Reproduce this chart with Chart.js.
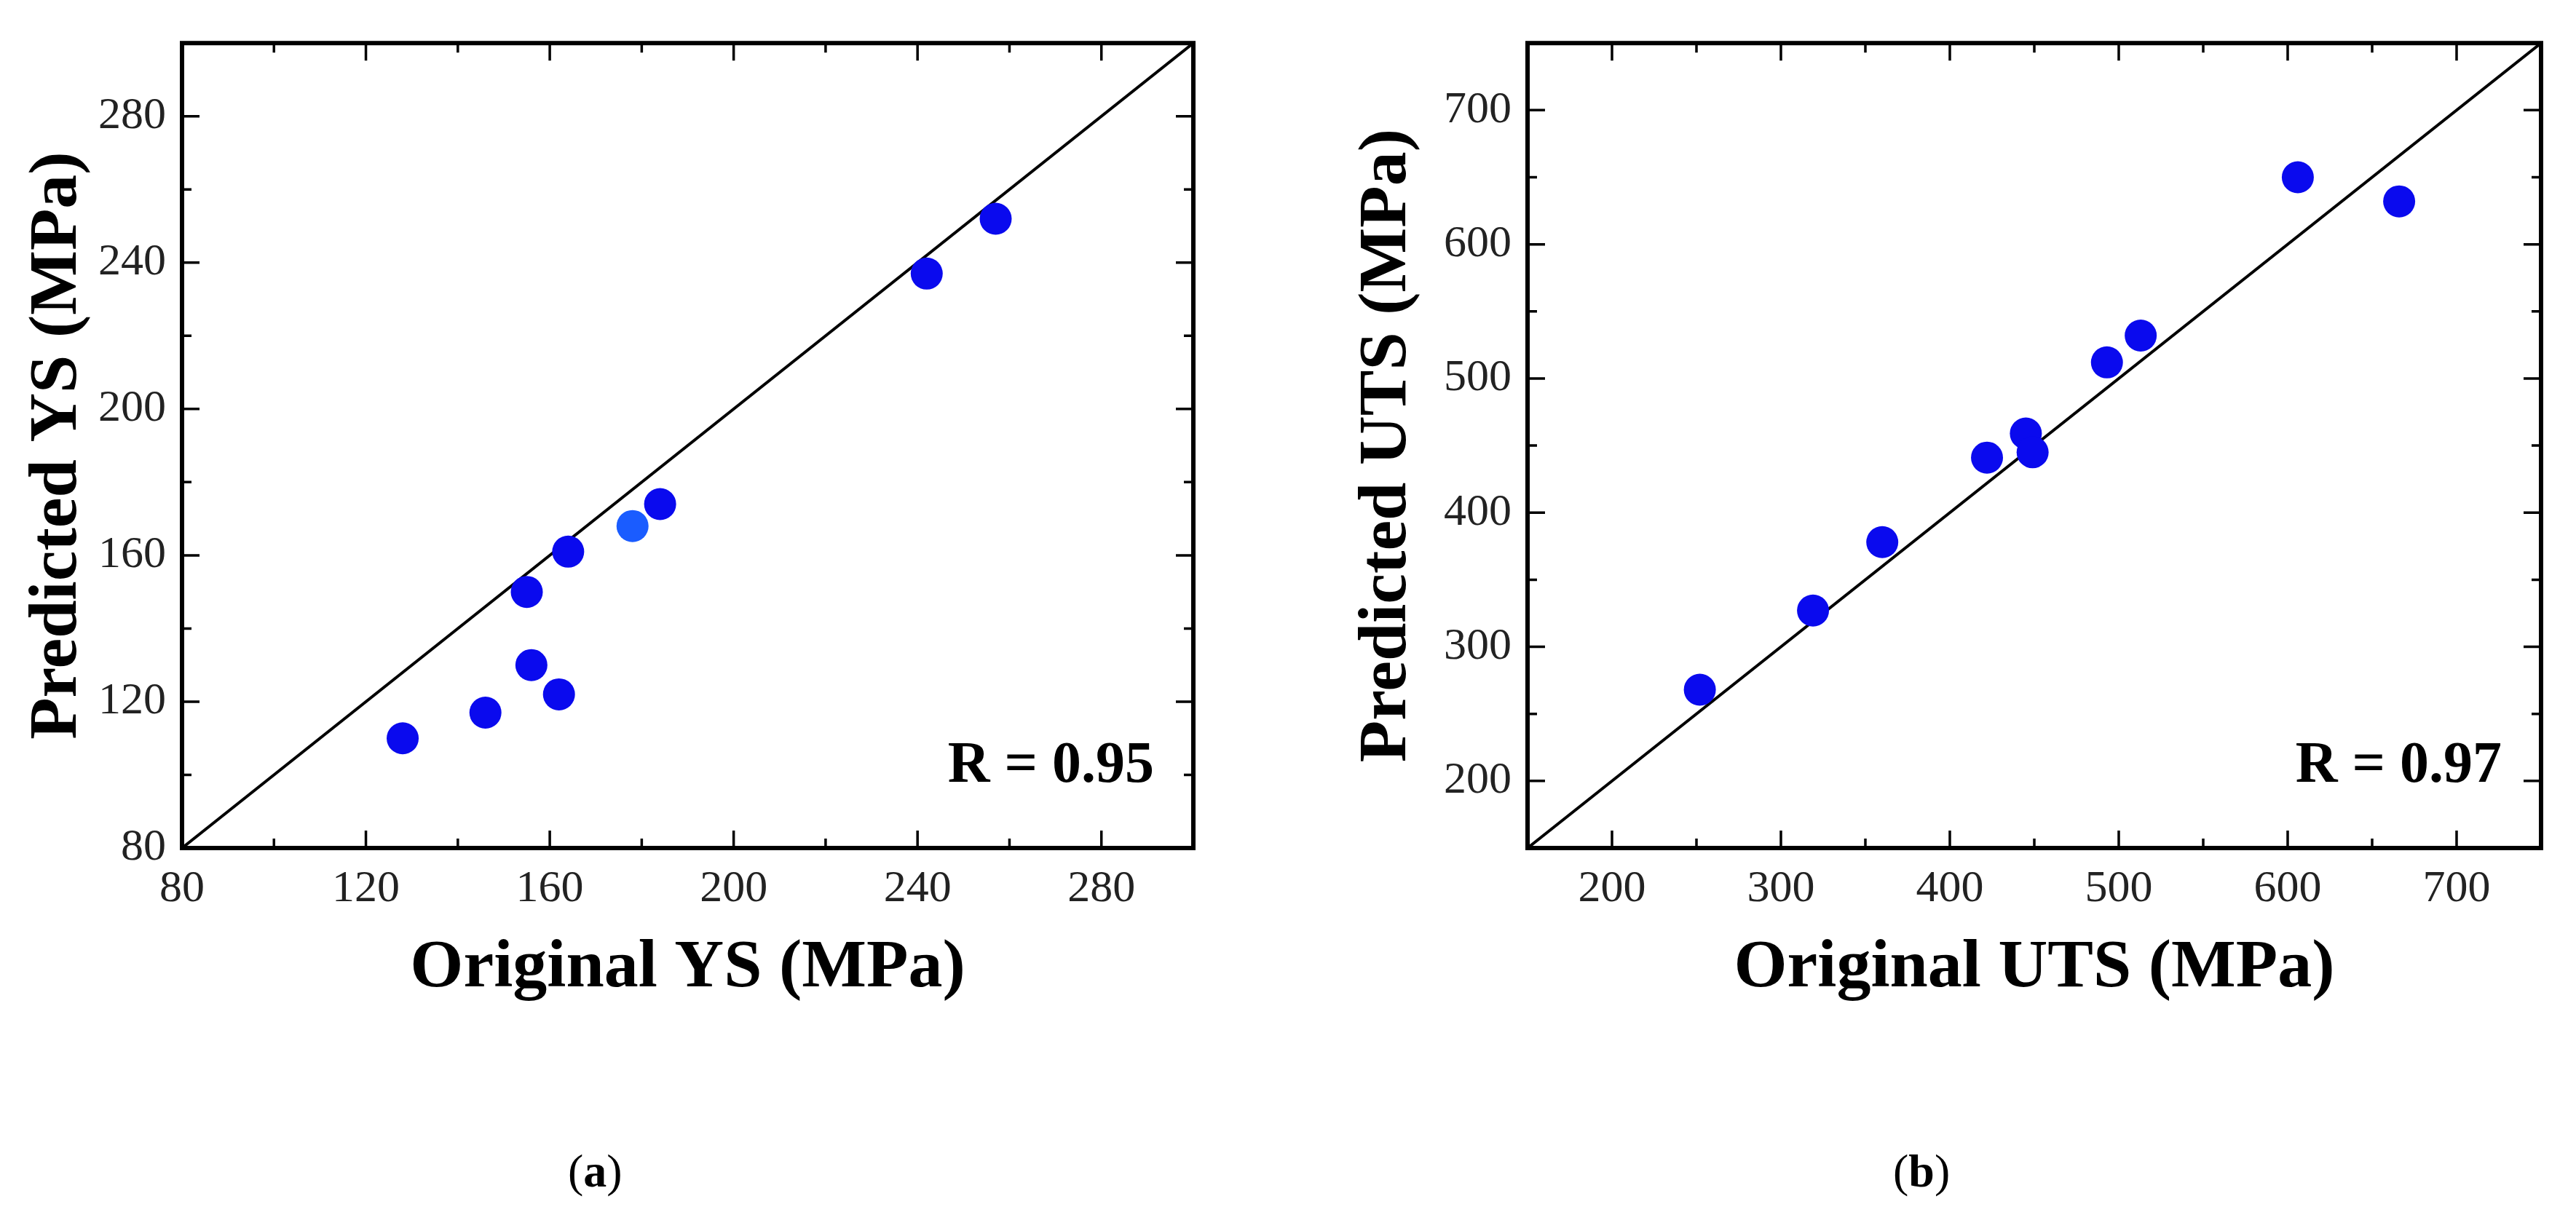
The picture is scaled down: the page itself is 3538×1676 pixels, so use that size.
<!DOCTYPE html>
<html>
<head>
<meta charset="utf-8">
<script src="https://cdn.jsdelivr.net/npm/chart.js@4"></script>
<style>
  body { margin: 0; width: 3538px; height: 1676px; background: #fff; position: relative; overflow: hidden; }
  .wrap { position: absolute; top: 0; width: 1769px; height: 1420px; }
  .cap { position: absolute; top: 1572px; font: 64px "Liberation Serif", serif; color: #000; }
</style>
</head>
<body>
<div class="wrap" style="left:0"><canvas id="chartA"></canvas></div>
<div class="wrap" style="left:1769px"><canvas id="chartB"></canvas></div>
<div class="cap" style="left:780px">(<b>a</b>)</div>
<div class="cap" style="left:2600px">(<b>b</b>)</div>
<script>
// Panel (a): yield strength
const ysOriginal  = [128, 146, 155, 156, 162, 164, 178, 184, 242, 257];
const ysPredicted = [110, 117, 150, 130, 122, 161, 168, 174, 237, 252];
const ysTicks = [80, 120, 160, 200, 240, 280];
const ysMinor = [100, 140, 180, 220, 260, 300];
const ysRange = [80, 300];

// Panel (b): ultimate tensile strength
const utsOriginal  = [252, 319, 360, 422, 445, 449, 493, 513, 606, 666];
const utsPredicted = [268, 327, 378, 441, 459, 445, 512, 532, 650, 632];
const utsTicks = [200, 300, 400, 500, 600, 700];
const utsMinor = [150, 250, 350, 450, 550, 650, 750];
const utsRange = [150, 750];

const serif = '"Liberation Serif", "DejaVu Serif", serif';

// frame + inward ticks on all four sides, plus the R label
const framePlugin = {
  id: 'frame',
  afterDraw(chart, args, opts) {
    const ctx = chart.ctx;
    const a = chart.chartArea;
    const xs = chart.scales.x, ys = chart.scales.y;
    ctx.save();
    ctx.strokeStyle = '#000';
    ctx.lineWidth = 3.5;
    const tick = (vals, len) => {
      vals.forEach(v => {
        const px = xs.getPixelForValue(v);
        ctx.beginPath();
        ctx.moveTo(px, a.bottom); ctx.lineTo(px, a.bottom - len);
        ctx.moveTo(px, a.top); ctx.lineTo(px, a.top + len);
        ctx.stroke();
        const py = ys.getPixelForValue(v);
        ctx.beginPath();
        ctx.moveTo(a.left, py); ctx.lineTo(a.left + len, py);
        ctx.moveTo(a.right, py); ctx.lineTo(a.right - len, py);
        ctx.stroke();
      });
    };
    tick(opts.major, 24);
    tick(opts.minor, 13);
    ctx.lineWidth = 6;
    ctx.strokeRect(a.left, a.top, a.right - a.left, a.bottom - a.top);
    ctx.fillStyle = '#000';
    ctx.font = 'bold 80px ' + serif;
    ctx.textAlign = 'right';
    ctx.textBaseline = 'middle';
    ctx.fillText(opts.label, a.right - 54, a.bottom - 112);
    ctx.restore();
  }
};

function makeChart(id, xv, yv, range, major, minor, xTitle, yTitle, rLabel, leftW, titlePad, padRight) {
  const pts = xv.map((x, i) => ({ x: x, y: yv[i] }));
  const colors = xv.map((x, i) => (id === 'chartA' && i === 6) ? '#1a5cff' : '#0a0aee');
  new Chart(document.getElementById(id), {
    type: 'scatter',
    data: {
      datasets: [
        {
          type: 'line',
          data: [{ x: range[0], y: range[0] }, { x: range[1], y: range[1] }],
          borderColor: '#000', borderWidth: 4, pointRadius: 0, order: 2
        },
        {
          data: pts,
          backgroundColor: colors, borderWidth: 0, pointRadius: 22, order: 1
        }
      ]
    },
    options: {
      responsive: true,
      maintainAspectRatio: false,
      animation: false,
      layout: { padding: { top: 41, right: padRight, left: 0, bottom: 0 } },
      plugins: {
        legend: { display: false },
        tooltip: { enabled: false },
        frame: { major: major, minor: minor, label: rLabel }
      },
      scales: {
        x: {
          type: 'linear', min: range[0], max: range[1],
          afterBuildTicks: s => { s.ticks = major.map(v => ({ value: v })); },
          afterFit: s => { s.height = 255; },
          grid: { display: false, drawTicks: false },
          border: { display: false },
          ticks: { font: { family: serif, size: 62 }, color: '#222', padding: 20 },
          title: { display: true, text: xTitle, color: '#000',
                   font: { family: serif, size: 94, weight: 'bold' }, padding: { bottom: 33 } }
        },
        y: {
          type: 'linear', min: range[0], max: range[1],
          afterBuildTicks: s => { s.ticks = major.map(v => ({ value: v })); },
          afterFit: s => { s.width = leftW; },
          grid: { display: false, drawTicks: false },
          border: { display: false },
          ticks: { font: { family: serif, size: 62 }, color: '#222', padding: 22 },
          title: { display: true, text: yTitle, color: '#000',
                   font: { family: serif, size: 94, weight: 'bold' }, padding: { top: titlePad } }
        }
      }
    },
    plugins: [framePlugin]
  });
}

makeChart('chartA', ysOriginal, ysPredicted, ysRange, ysTicks, ysMinor,
  'Original YS (MPa)', 'Predicted YS (MPa)', 'R = 0.95', 250, 23, 130);
makeChart('chartB', utsOriginal, utsPredicted, utsRange, utsTicks, utsMinor,
  'Original UTS (MPa)', 'Predicted UTS (MPa)', 'R = 0.97', 329, 80, 48);
</script>
</body>
</html>
